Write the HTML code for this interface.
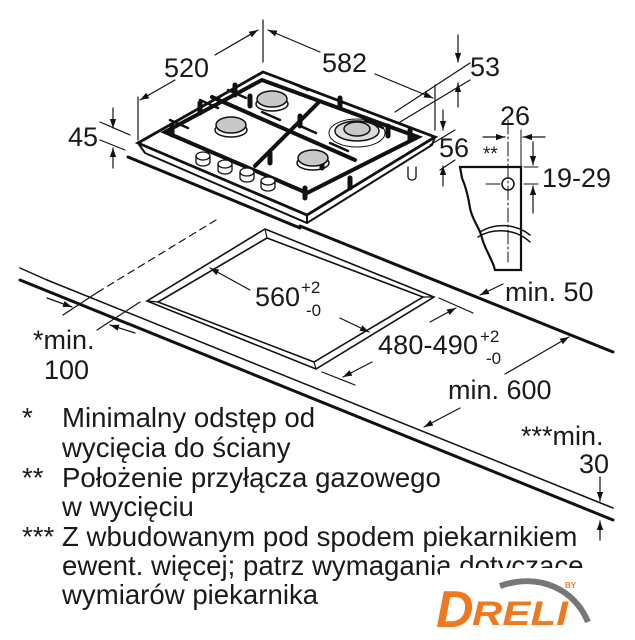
<!DOCTYPE html>
<html><head><meta charset="utf-8"><style>
html,body{margin:0;padding:0;background:#fff;width:635px;height:640px;overflow:hidden}
svg{display:block}
text{font-family:"Liberation Sans","DejaVu Sans",sans-serif;fill:#1a1a1a}
</style></head><body>
<svg width="635" height="640" viewBox="0 0 635 640" xmlns="http://www.w3.org/2000/svg">
<defs>
<marker id="a" viewBox="0 0 10 10" refX="10" refY="5" markerWidth="9" markerHeight="9" markerUnits="userSpaceOnUse" orient="auto"><path d="M0,1.5 L10,5 L0,8.5 z" fill="#111"/></marker>
</defs>
<g stroke="#111" fill="none" stroke-linecap="round">
<line x1="20" y1="280" x2="613" y2="520" stroke-width="3"/>
<line x1="47" y1="280" x2="613" y2="508" stroke-width="1.5"/>
<line x1="20" y1="268" x2="47" y2="280" stroke-width="1.5"/>
<line x1="300" y1="226" x2="613" y2="352" stroke-width="3"/>
<line x1="216" y1="220" x2="98" y2="292" stroke-width="1.2" stroke-dasharray="7,5"/>
<line x1="98" y1="292" x2="63" y2="315" stroke-width="1.2"/>
<line x1="140" y1="302" x2="97" y2="330" stroke-width="1.2"/>
<line x1="47" y1="298" x2="72" y2="307" stroke-width="1.2" marker-end="url(#a)"/>
<line x1="135" y1="333" x2="110" y2="325" stroke-width="1.2" marker-end="url(#a)"/>
<path d="M265,229 L147,301 L316,369 L434,297 Z" stroke-width="1.6"/>
<path d="M267,238 L158,302 L314,362 L423,297 Z" stroke-width="1.6"/>
<line x1="265" y1="229" x2="267" y2="238" stroke-width="1.2"/>
<line x1="147" y1="301" x2="158" y2="302" stroke-width="1.2"/>
<line x1="316" y1="369" x2="314" y2="362" stroke-width="1.2"/>
<line x1="434" y1="297" x2="423" y2="297" stroke-width="1.2"/>
<line x1="250" y1="290" x2="210" y2="268" stroke-width="1.2" marker-end="url(#a)"/>
<line x1="340" y1="318" x2="369" y2="332" stroke-width="1.2" marker-end="url(#a)"/>
<line x1="439" y1="298" x2="473" y2="313" stroke-width="1.2"/>
<line x1="322" y1="372" x2="355" y2="385" stroke-width="1.2"/>
<line x1="430" y1="322" x2="456" y2="308" stroke-width="1.2" marker-end="url(#a)"/>
<line x1="372" y1="362" x2="343" y2="377" stroke-width="1.2" marker-end="url(#a)"/>
<line x1="505" y1="374" x2="569" y2="337" stroke-width="1.2" marker-end="url(#a)"/>
<line x1="460" y1="408" x2="424" y2="427" stroke-width="1.2" marker-end="url(#a)"/>
<line x1="503" y1="284" x2="480" y2="295" stroke-width="1.2" marker-end="url(#a)"/>
<line x1="600" y1="477" x2="600" y2="501" stroke-width="1.2" marker-end="url(#a)"/>
<line x1="600" y1="540" x2="600" y2="521" stroke-width="1.2" marker-end="url(#a)"/>
<path d="M263,72 L138,143 L307,215 L435,137 Z" stroke-width="2.8" fill="#fff"/>
<path d="M138,143 L145,153 L307,223 L432,145 L435,137" stroke-width="2"/>
<line x1="307" y1="215" x2="307" y2="223" stroke-width="2"/>
<line x1="128" y1="157" x2="300" y2="228" stroke-width="3"/>
<path d="M262,80 L165,132 L307,193 L418,137 Z" stroke-width="4"/>
<line x1="212" y1="97" x2="355" y2="160" stroke-width="4"/>
<line x1="318" y1="103" x2="255" y2="166" stroke-width="4"/>
<path d="M235,85 l0,10 M200,103 l0,10 M172,125 l0,10 M340,98 l0,10 M300,116 l0,10 M388,126 l0,10 M410,130 l0,10 M350,178 l0,10 M305,188 l0,10 M270,153 l0,10 M322,158 l0,10 M250,96 l0,10" stroke-width="5"/>
<path d="M228,90 l18,8 M200,100 l18,8 M170,120 l18,8 M262,112 l18,8 M298,125 l18,8 M330,143 l18,8 M365,120 l18,8 M290,82 l18,8" stroke-width="2.5"/>
<ellipse cx="272" cy="104" rx="16" ry="7" stroke-width="1.5"/>
<ellipse cx="272" cy="99" rx="15" ry="8" fill="#c8c8c8" stroke-width="1.5"/>
<ellipse cx="231" cy="130" rx="16" ry="7" stroke-width="1.5"/>
<ellipse cx="231" cy="125" rx="15" ry="8" fill="#c8c8c8" stroke-width="1.5"/>
<ellipse cx="357" cy="133" rx="28" ry="14" stroke-width="1"/>
<ellipse cx="357" cy="131" rx="22" ry="10" fill="#ddd" stroke-width="1.5"/>
<ellipse cx="357" cy="129" rx="13" ry="7" fill="#c8c8c8" stroke-width="1.5"/>
<ellipse cx="313" cy="163" rx="16" ry="7" stroke-width="1.5"/>
<ellipse cx="313" cy="158" rx="15" ry="8" fill="#c8c8c8" stroke-width="1.5"/>
<g stroke-width="1.3" fill="#fff">
<path d="M196,156 v6 a7,4 0 0 0 14,0 v-6"/><ellipse cx="203" cy="156" rx="7" ry="4"/>
<path d="M218,164 v6 a7,4 0 0 0 14,0 v-6"/><ellipse cx="225" cy="164" rx="7" ry="4"/>
<path d="M240,172 v6 a7,4 0 0 0 14,0 v-6"/><ellipse cx="247" cy="172" rx="7" ry="4"/>
<path d="M261,181 v6 a7,4 0 0 0 14,0 v-6"/><ellipse cx="268" cy="181" rx="7" ry="4"/>
<path d="M408,167 v10 a4,3 0 0 0 8,0 v-10"/>
</g>
<line x1="138" y1="140" x2="138" y2="97" stroke-width="1.2"/>
<line x1="263" y1="62" x2="263" y2="20" stroke-width="1.2"/>
<line x1="435" y1="130" x2="435" y2="85" stroke-width="1.2"/>
<line x1="175" y1="80" x2="140" y2="100" stroke-width="1.2" marker-end="url(#a)"/>
<line x1="215" y1="55" x2="258" y2="30" stroke-width="1.2" marker-end="url(#a)"/>
<line x1="320" y1="52" x2="268" y2="30" stroke-width="1.2" marker-end="url(#a)"/>
<line x1="375" y1="74" x2="433" y2="98" stroke-width="1.2" marker-end="url(#a)"/>
<line x1="395" y1="112" x2="470" y2="63" stroke-width="1.2"/>
<line x1="400" y1="122" x2="470" y2="80" stroke-width="1.2"/>
<line x1="458" y1="35" x2="458" y2="62" stroke-width="1.2" marker-end="url(#a)"/>
<line x1="458" y1="107" x2="458" y2="83" stroke-width="1.2" marker-end="url(#a)"/>
<line x1="100" y1="122" x2="130" y2="135" stroke-width="1.2"/>
<line x1="100" y1="140" x2="125" y2="150" stroke-width="1.2"/>
<line x1="113" y1="108" x2="113" y2="128" stroke-width="1.2" marker-end="url(#a)"/>
<line x1="113" y1="168" x2="113" y2="148" stroke-width="1.2" marker-end="url(#a)"/>
<line x1="430" y1="145" x2="455" y2="130" stroke-width="1.2"/>
<line x1="440" y1="170" x2="455" y2="160" stroke-width="1.2"/>
<line x1="443" y1="110" x2="443" y2="130" stroke-width="1.2" marker-end="url(#a)"/>
<line x1="443" y1="186" x2="443" y2="166" stroke-width="1.2" marker-end="url(#a)"/>
<path d="M460,167 L521,167 L521,270 L495,270 C492,258 485,250 482,238 C480,228 472,220 470,208 C468,195 465,185 462,178 Z" stroke-width="2.2" fill="#fff"/>
<path d="M478,237 C492,228 515,228 530,242" stroke-width="1.5"/>
<path d="M480,232 C494,223 515,223 530,235" stroke-width="1.5"/>
<circle cx="508" cy="184" r="6" stroke-width="1.5"/>
<line x1="508" y1="120" x2="508" y2="262" stroke-width="1" stroke-dasharray="14,3,2,3"/>
<line x1="486" y1="184" x2="500" y2="184" stroke-width="1"/>
<line x1="521" y1="130" x2="521" y2="167" stroke-width="1"/>
<line x1="483" y1="137" x2="505" y2="137" stroke-width="1.2" marker-end="url(#a)"/>
<line x1="545" y1="137" x2="523" y2="137" stroke-width="1.2" marker-end="url(#a)"/>
<line x1="524" y1="167" x2="538" y2="167" stroke-width="1"/>
<line x1="524" y1="184" x2="538" y2="184" stroke-width="1"/>
<line x1="533" y1="142" x2="533" y2="165" stroke-width="1.2" marker-end="url(#a)"/>
<line x1="533" y1="213" x2="533" y2="186" stroke-width="1.2" marker-end="url(#a)"/>
</g>
<g font-size="27">
<text x="164" y="77">520</text>
<text x="322" y="72">582</text>
<text x="470" y="76">53</text>
<text x="68" y="146">45</text>
<text x="439" y="157">56</text>
<text x="500" y="125">26</text>
<text x="483" y="160" font-size="19">**</text>
<text x="542" y="187">19-29</text>
<text x="255" y="306">560</text>
<text x="301" y="293" font-size="17">+2</text>
<text x="306" y="316" font-size="17">-0</text>
<text x="378" y="354" textLength="100">480-490</text>
<text x="480" y="342" font-size="17">+2</text>
<text x="486" y="364" font-size="17">-0</text>
<text x="505" y="301">min. 50</text>
<text x="448" y="399">min. 600</text>
<text x="33" y="349">*min.</text>
<text x="44" y="379">100</text>
<text x="521" y="445">***min.</text>
<text x="579" y="473">30</text>
</g>
<g font-size="27.6">
<text x="22" y="427">*</text>
<text x="62" y="427">Minimalny odstęp od</text>
<text x="62" y="457">wycięcia do ściany</text>
<text x="22" y="487">**</text>
<text x="62" y="487">Położenie przyłącza gazowego</text>
<text x="62" y="516">w wycięciu</text>
<text x="22" y="546">***</text>
<text x="62" y="546">Z wbudowanym pod spodem piekarnikiem</text>
<text x="62" y="575">ewent. więcej; patrz wymagania dotyczące</text>
<text x="62" y="604">wymiarów piekarnika</text>
</g>
<rect x="440" y="568" width="170" height="70" fill="#fff"/>
<path d="M500,586 C540,572 575,590 588,622" stroke="#777" stroke-width="6" fill="none"/>
<text x="436" y="627" font-size="52" font-weight="bold" font-style="italic" style="fill:#f07820">D</text>
<text x="472" y="625" font-size="34" font-weight="bold" font-style="italic" style="fill:#f07820" textLength="96" lengthAdjust="spacingAndGlyphs">RELI</text>
<text x="565" y="588" font-size="8" font-weight="bold" style="fill:#f07820">BY</text>
</svg>
</body></html>
